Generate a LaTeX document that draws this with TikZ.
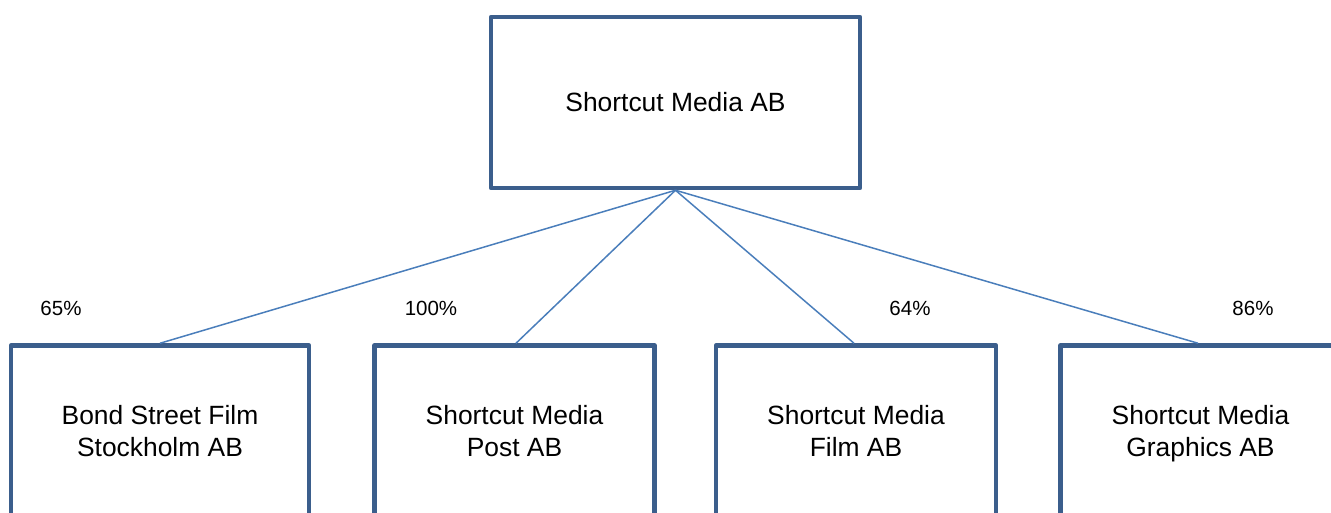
\documentclass[tikz,border=0pt]{standalone}
\usepackage{fontspec}
\setmainfont{Liberation Sans}
\usetikzlibrary{calc}
\definecolor{boxblue}{RGB}{59,94,140}
\definecolor{lineblue}{RGB}{74,126,187}
\begin{document}
\begin{tikzpicture}[x=1pt,y=-1pt,
  orgbox/.style={draw=boxblue,line width=4.5pt,line join=round,rectangle,inner sep=0pt,
    minimum height=171pt,align=center,font=\fontsize{26.4}{32}\selectfont},
  conn/.style={draw=lineblue,line width=1.5pt},
  pct/.style={inner sep=0pt,font=\fontsize{20.5}{24}\selectfont}]
\useasboundingbox (0,0) rectangle (1331,513);
\clip (0,0) rectangle (1331,513);
\node[orgbox,minimum width=369pt] (top) at (675.5,102.5) {\raisebox{-2pt}{Shortcut Media AB}};
\node[orgbox,minimum width=298pt] (b1) at (160,431) {Bond Street Film\\Stockholm AB};
\node[orgbox,minimum width=280pt] (b2) at (514.5,431) {Shortcut Media\\Post AB};
\node[orgbox,minimum width=280pt] (b3) at (856,431) {Shortcut Media\\Film AB};
\node[orgbox,minimum width=280pt] (b4) at (1200.5,431) {Shortcut Media\\\smash{Graphics AB}};
\draw[conn] (top.south) -- (b1.north);
\draw[conn] (top.south) -- ($(b2.north)+(1.5,0)$);
\draw[conn] (top.south) -- ($(b3.north)+(-2,0)$);
\draw[conn] (top.south) -- ($(b4.north)+(-2.5,0)$);
\node[pct] (p1) at (61,308) {65\%};
\node[pct] (p2) at (431,308) {100\%};
\node[pct] (p3) at (910,308) {64\%};
\node[pct] (p4) at (1253,308) {86\%};
\end{tikzpicture}
\end{document}
